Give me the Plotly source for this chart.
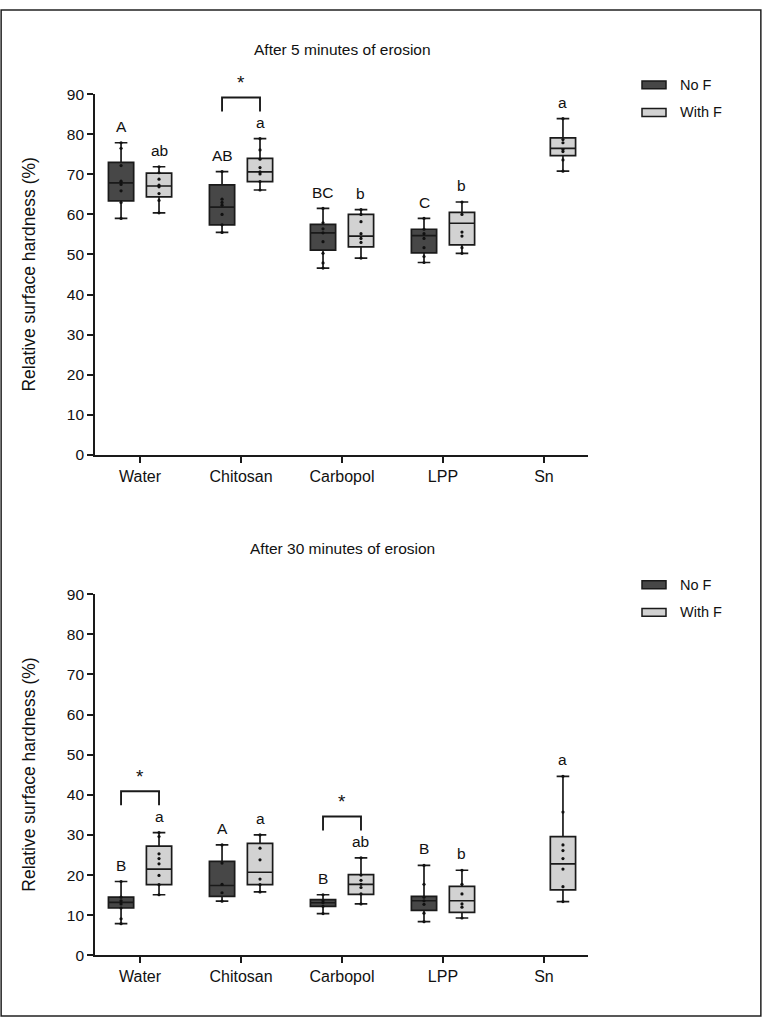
import plotly.graph_objects as go

FONT = "Liberation Sans"

categories = ["Water", "Chitosan", "Carbopol", "LPP", "Sn"]
series_names = ["No F", "With F"]

# ---------- Panel 1: after 5 minutes ----------
p1_nof_lower  = [59.0, 55.5, 46.6, 48.0, None]
p1_nof_q1     = [63.4, 57.4, 51.1, 50.4, None]
p1_nof_median = [67.9, 61.8, 55.4, 54.7, None]
p1_nof_q3     = [73.0, 67.4, 57.5, 56.3, None]
p1_nof_upper  = [77.9, 70.7, 61.5, 59.0, None]

p1_wf_lower  = [60.4, 66.1, 49.1, 50.3, 70.8]
p1_wf_q1     = [64.4, 68.2, 51.9, 52.4, 74.7]
p1_wf_median = [67.1, 70.6, 54.6, 57.8, 76.5]
p1_wf_q3     = [70.3, 74.0, 60.0, 60.5, 79.1]
p1_wf_upper  = [71.9, 78.9, 61.2, 63.1, 83.9]

p1_nof_points = [
    [59.0, 63.0, 65.9, 67.5, 68.3, 72.2, 76.5, 77.9],
    [55.5, 57.4, 60.0, 62.3, 63.0, 63.8, 70.7],
    [46.6, 47.9, 50.3, 53.2, 55.4, 56.4, 57.9, 61.5],
    [48.0, 49.5, 51.7, 54.0, 55.2, 56.3, 59.0],
    [],
]
p1_wf_points = [
    [60.4, 63.5, 65.2, 66.9, 67.3, 68.8, 70.4, 71.9],
    [66.1, 68.2, 70.1, 70.6, 71.7, 73.8, 76.1, 78.9],
    [49.1, 53.0, 54.0, 55.2, 58.2, 60.0, 61.2],
    [50.3, 51.7, 54.6, 55.6, 60.0, 63.1],
    [70.8, 73.6, 75.7, 76.2, 77.9, 78.7, 83.9],
]
p1_nof_letters = ["A", "AB", "BC", "C", ""]
p1_wf_letters = ["ab", "a", "b", "b", "a"]
p1_signif = [1]          # category indexes with "*" bracket

# ---------- Panel 2: after 30 minutes ----------
p2_nof_lower  = [7.9, 13.5, 10.4, 8.4, None]
p2_nof_q1     = [11.8, 14.7, 12.2, 11.2, None]
p2_nof_median = [13.2, 17.4, 13.1, 13.6, None]
p2_nof_q3     = [14.5, 23.4, 13.9, 14.7, None]
p2_nof_upper  = [18.4, 27.5, 15.1, 22.4, None]

p2_wf_lower  = [15.1, 15.8, 12.8, 9.3, 13.4]
p2_wf_q1     = [17.6, 17.6, 15.2, 10.7, 16.3]
p2_wf_median = [21.5, 20.7, 17.7, 13.6, 22.8]
p2_wf_q3     = [27.2, 27.9, 20.1, 17.2, 29.6]
p2_wf_upper  = [30.6, 30.0, 24.3, 21.2, 44.6]

p2_nof_points = [
    [7.9, 9.1, 11.8, 12.8, 13.6, 14.5, 18.4],
    [13.5, 15.6, 17.7, 23.0, 27.5],
    [10.4, 12.2, 13.1, 13.6, 15.1],
    [8.4, 10.5, 12.7, 13.6, 14.5, 17.7, 22.4],
    [],
]
p2_wf_points = [
    [15.1, 17.6, 19.9, 22.8, 24.1, 25.3, 29.6, 30.6],
    [15.8, 17.6, 19.0, 23.8, 26.7, 30.0],
    [12.8, 15.3, 16.9, 17.7, 18.7, 20.0, 24.3],
    [9.3, 12.0, 12.8, 15.3, 17.7, 21.2],
    [13.4, 17.1, 21.5, 24.1, 26.1, 27.5, 35.7, 44.6],
]
p2_nof_letters = ["B", "A", "B", "B", ""]
p2_wf_letters = ["a", "a", "ab", "b", "a"]
p2_signif = [0, 2]

titles = ["After 5 minutes of erosion", "After 30 minutes of erosion"]
y_title = "Relative surface hardness (%)"
Y_RANGE = [0, 90]

# ---------- styling ----------
NOF_FILL = "#474747"
WF_FILL = "#d2d2d2"
LINE = "#1a1a1a"
TXT = "#111111"
OFFSET = 0.188
BOXW = 0.25

W, H = 762, 1025
XDOM = [95 / W, 588 / W]
YDOMS = [[1 - 453.3 / H, 1 - 86.7 / H], [1 - 962.3 / H, 1 - 595.0 / H]]


def to_paper(pi, v):
    d0, d1 = YDOMS[pi]
    return d0 + (v - Y_RANGE[0]) / (Y_RANGE[1] - Y_RANGE[0]) * (d1 - d0)


fig = go.Figure()

panels = [
    dict(nof=(p1_nof_lower, p1_nof_q1, p1_nof_median, p1_nof_q3, p1_nof_upper),
         wf=(p1_wf_lower, p1_wf_q1, p1_wf_median, p1_wf_q3, p1_wf_upper),
         nofp=p1_nof_points, wfp=p1_wf_points,
         nofl=p1_nof_letters, wfl=p1_wf_letters, sig=p1_signif),
    dict(nof=(p2_nof_lower, p2_nof_q1, p2_nof_median, p2_nof_q3, p2_nof_upper),
         wf=(p2_wf_lower, p2_wf_q1, p2_wf_median, p2_wf_q3, p2_wf_upper),
         nofp=p2_nof_points, wfp=p2_wf_points,
         nofl=p2_nof_letters, wfl=p2_wf_letters, sig=p2_signif),
]

annotations = []
shapes = []

for pi, pan in enumerate(panels):
    xa = "x" if pi == 0 else "x2"
    ya = "y" if pi == 0 else "y2"
    for key, pts_key, let_key, off, fill, name in [
        ("nof", "nofp", "nofl", -OFFSET, NOF_FILL, series_names[0]),
        ("wf", "wfp", "wfl", OFFSET, WF_FILL, series_names[1]),
    ]:
        lo, q1, md, q3, up = pan[key]
        idx = [i for i in range(len(categories)) if md[i] is not None]
        xs = [i + off for i in idx]
        fig.add_trace(go.Box(
            x=xs,
            lowerfence=[lo[i] for i in idx], q1=[q1[i] for i in idx],
            median=[md[i] for i in idx], q3=[q3[i] for i in idx],
            upperfence=[up[i] for i in idx],
            width=BOXW, whiskerwidth=0.5, boxpoints=False,
            fillcolor=fill, line=dict(color=LINE, width=1.7),
            name=name, showlegend=False, hoverinfo="skip",
            xaxis=xa, yaxis=ya,
        ))
        px, py = [], []
        for i in idx:
            for v in pan[pts_key][i]:
                px.append(i + off)
                py.append(v)
        fig.add_trace(go.Scatter(
            x=px, y=py, mode="markers",
            marker=dict(color="#111111", size=3.2),
            showlegend=False, hoverinfo="skip", xaxis=xa, yaxis=ya,
        ))
        for i in idx:
            txt = pan[let_key][i]
            if txt:
                annotations.append(dict(
                    x=i + off, y=up[i] + 4.1, xref=xa, yref=ya, text=txt,
                    showarrow=False, xanchor="center", yanchor="middle",
                    font=dict(family=FONT, size=15.5, color=TXT),
                ))
    # significance brackets
    for i in pan["sig"]:
        top = max(pan["nof"][4][i], pan["wf"][4][i])
        leg, bar, star = top + 6.8, top + 10.3, top + 14.0
        shapes.append(dict(
            type="path", xref=xa, yref=ya,
            path=f"M {i - OFFSET},{leg} L {i - OFFSET},{bar} L {i + OFFSET},{bar} L {i + OFFSET},{leg}",
            line=dict(color=LINE, width=1.9),
        ))
        annotations.append(dict(
            x=i, y=to_paper(pi, star), xref=xa, yref="paper", text="*",
            showarrow=False, xanchor="center", yanchor="middle",
            font=dict(family=FONT, size=19, color=TXT),
        ))

    # panel title
    annotations.append(dict(
        x=342 / W, y=YDOMS[pi][1] + 46 / H, xref="paper", yref="paper",
        text=titles[pi], showarrow=False, xanchor="center", yanchor="middle",
        font=dict(family=FONT, size=15.5, color=TXT),
    ))
    # y-axis title
    annotations.append(dict(
        x=29 / W, y=(YDOMS[pi][0] + YDOMS[pi][1]) / 2, xref="paper", yref="paper",
        text=y_title, showarrow=False, textangle=-90,
        xanchor="center", yanchor="middle",
        font=dict(family=FONT, size=17.5, color=TXT),
    ))
    # legend (manual)
    ytop_px = 86.7 if pi == 0 else 595.0
    for k, (nm, fill) in enumerate(zip(series_names, [NOF_FILL, WF_FILL])):
        cy = ytop_px - 9.5 + k * 28
        shapes.append(dict(
            type="rect", xref="paper", yref="paper",
            x0=642 / W, x1=666 / W, y0=1 - (cy + 4) / H, y1=1 - (cy - 4) / H,
            fillcolor=fill, line=dict(color=LINE, width=1.5),
        ))
        annotations.append(dict(
            x=678 / W, y=1 - cy / H, xref="paper", yref="paper", text=nm,
            showarrow=False, xanchor="left", yanchor="middle",
            font=dict(family=FONT, size=14.5, color=TXT),
        ))

# outer frame
shapes.append(dict(type="rect", xref="paper", yref="paper",
                   x0=0.0015, x1=0.9985, y0=0.001, y1=0.999,
                   line=dict(color="#222222", width=1.5)))

axis_common = dict(
    showline=True, linecolor=LINE, linewidth=1.7, ticks="outside",
    ticklen=6, tickwidth=1.7, tickcolor=LINE, showgrid=False, zeroline=False,
    tickfont=dict(family=FONT, size=15.5, color=TXT),
)
xcommon = dict(axis_common, range=[-0.446, 4.436], tickmode="array",
               tickvals=list(range(len(categories))), ticktext=categories,
               tickfont=dict(family=FONT, size=16, color=TXT))
ycommon = dict(axis_common, range=Y_RANGE, tickmode="linear", tick0=0, dtick=10)

fig.update_layout(
    width=W, height=H,
    margin=dict(l=0, r=0, t=0, b=0),
    paper_bgcolor="white", plot_bgcolor="white",
    showlegend=False,
    xaxis=dict(xcommon, domain=XDOM, anchor="y"),
    yaxis=dict(ycommon, domain=YDOMS[0], anchor="x"),
    xaxis2=dict(xcommon, domain=XDOM, anchor="y2"),
    yaxis2=dict(ycommon, domain=YDOMS[1], anchor="x2"),
    annotations=annotations,
    shapes=shapes,
)

fig.write_html("out.html")
